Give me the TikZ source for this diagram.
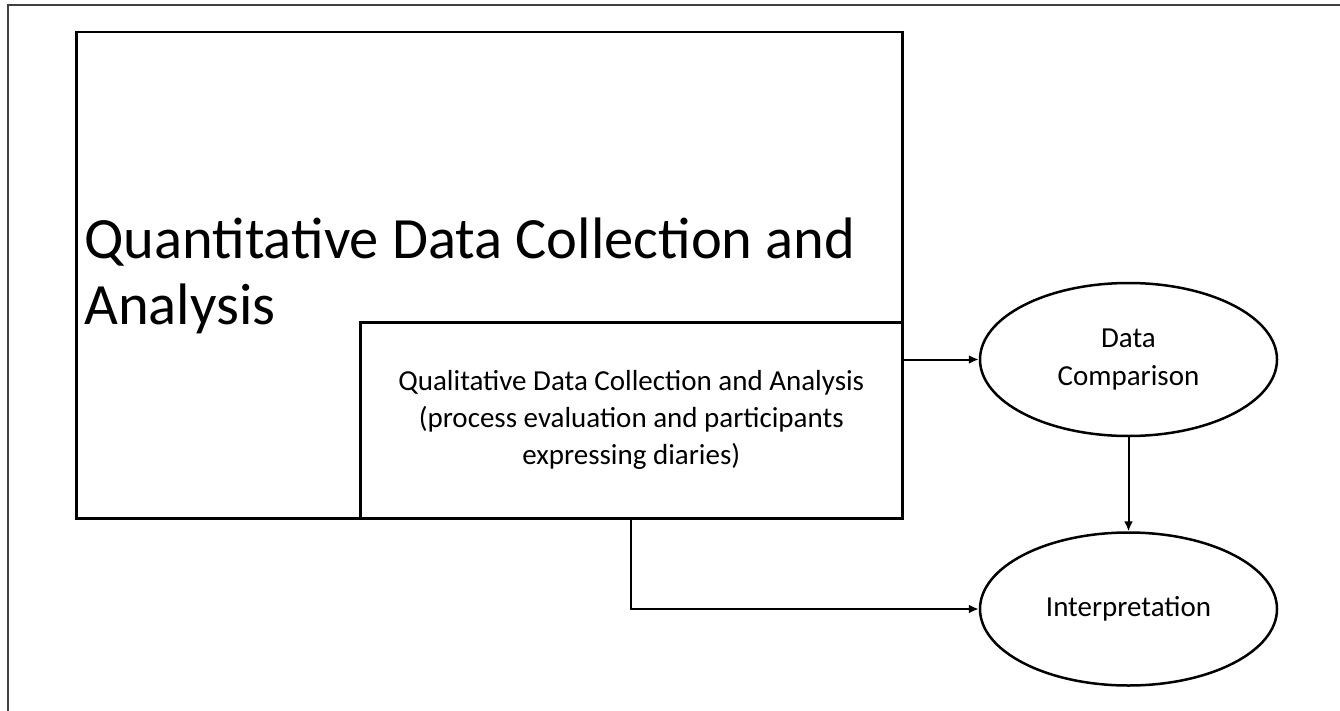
\documentclass[tikz,border=0pt]{standalone}
\usepackage{fontspec}
\setmainfont{Carlito}
\usetikzlibrary{shapes.geometric,arrows.meta}
\begin{document}
\begin{tikzpicture}[x=1pt,y=-1pt,
  boxstyle/.style={draw=black, line width=2.5pt, inner sep=0pt},
  ellstyle/.style={draw=black, ellipse, line width=2.5pt, inner sep=0pt,
    minimum width=297pt, minimum height=153pt, align=center,
    font=\fontsize{29}{38}\selectfont},
  arrowstyle/.style={draw=black, line width=2pt, -{Latex[length=10pt,width=9pt]}},
  framestyle/.style={draw=black!75, line width=2pt}
]
\useasboundingbox (0,0) rectangle (1340,711);
\draw[framestyle] (7.5,711) -- (7.5,5.5) -- (1340,5.5);
\node[boxstyle, anchor=north west, minimum width=826pt, minimum height=486pt] (big) at (75,31) {};
\node[anchor=west, align=left, inner sep=0pt, font=\fontsize{58.5}{66}\selectfont] (bigtext) at (84,276) {Quantitative Data Collection and\\Analysis};
\node[boxstyle, fill=white, anchor=north west, minimum width=542pt, minimum height=196pt,
  align=center, font=\fontsize{29}{37}\selectfont] (inner) at (359,321)
  {Qualitative Data Collection and Analysis\\(process evaluation and participants\\expressing diaries)};
\node[ellstyle] (dc) at (1128.5,359.5) {Data\\Comparison};
\node[ellstyle] (interp) at (1128.5,609) {Interpretation};
\draw[arrowstyle] (inner.east |- dc.west) -- (dc.west);
\draw[arrowstyle] (dc.south) -- (interp.north);
\draw[arrowstyle] (inner.south) -- (inner.south |- interp.west) -- (interp.west);
\end{tikzpicture}
\end{document}
